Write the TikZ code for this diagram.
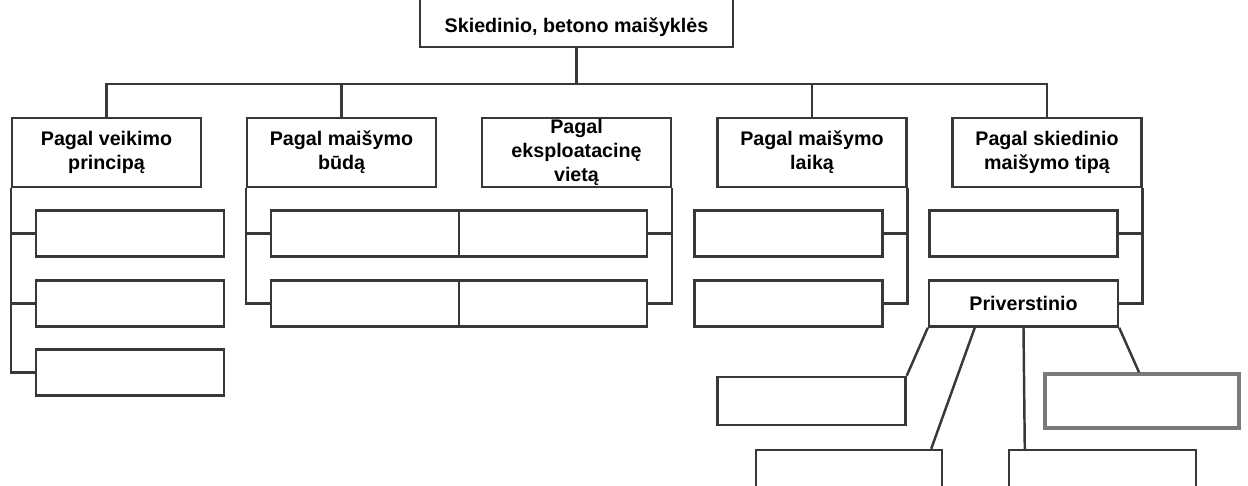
\documentclass[tikz,border=0pt]{standalone}
\usepackage{fontspec}
\setmainfont{Liberation Sans}
\usepackage{tikz}
\usetikzlibrary{positioning}
\definecolor{linegray}{HTML}{383838}
\definecolor{framegray}{HTML}{7A7A7A}
\tikzset{
  tree/.style={draw=linegray, line width=1.4pt},
  rootbox/.style={draw=linegray, line width=1.4pt, fill=white, minimum width=6.26cm, text height=0.95cm, text depth=0.28cm, inner sep=0pt, align=center, font=\bfseries\fontsize{11.2}{13.5}\selectfont},
  catbox/.style={draw=linegray, line width=1.4pt, fill=white, minimum width=3.78cm, minimum height=1.38cm, inner sep=0pt, align=center, font=\bfseries\fontsize{11.2}{13.5}\selectfont},
  leafbox/.style={draw=linegray, line width=1.4pt, fill=white, minimum width=3.76cm, minimum height=0.92cm, inner sep=0pt},
  boldframe/.style={draw=framegray, line width=2pt, fill=white, minimum width=3.88cm, minimum height=1.08cm, inner sep=0pt}
}

\begin{document}
\begin{tikzpicture}[x=0.02cm, y=-0.02cm]
      \useasboundingbox (0,0) rectangle (1248,486);
      \clip (0,0) rectangle (1248,486);
      % root and bus
      \node[rootbox, anchor=south] (root) at (576.5,48) {Skiedinio, betono maišyklės};
      \coordinate (bus) at (576.5,84);
      % categories
      \node[catbox] (c1) at (106.5,152.5) {Pagal veikimo\\principą};
      \node[catbox] (c2) at (341.5,152.5) {Pagal maišymo\\būdą};
      \node[catbox] (c3) at (576.5,152.5) {Pagal\\eksploatacinę\\vietą};
      \node[catbox] (c4) at (812,152.5) {Pagal maišymo\\laiką};
      \node[catbox] (c5) at (1047,152.5) {Pagal skiedinio\\maišymo tipą};
      \draw[tree] (root.south) -- (bus);
      \draw[tree] (c1.north) |- (bus) -| (c5.north);
      \draw[tree] (c2.north) -- (c2.north |- bus);
      \draw[tree] (c4.north) -- (c4.north |- bus);
      % leaves
      \node[leafbox] (v1) at (130,233.5) {};
      \node[leafbox] (v2) at (130,303.5) {};
      \node[leafbox] (v3) at (130,372.5) {};
      \node[leafbox] (b1) at (365,233.5) {};
      \node[leafbox] (b2) at (365,303.5) {};
      \node[leafbox] (e1) at (553,233.5) {};
      \node[leafbox] (e2) at (553,303.5) {};
      \node[leafbox] (l1) at (788.5,233.5) {};
      \node[leafbox] (l2) at (788.5,303.5) {};
      \node[leafbox] (t1) at (1023.5,233.5) {};
      \node[leafbox, font=\bfseries\fontsize{11.2}{13.5}\selectfont, minimum width=3.78cm] (pv) at (1023.5,303.5) {Priverstinio};
      % spines
      \draw[tree] (c1.south west) |- (v3.west);
      \draw[tree] (c1.south west |- v1.west) -- (v1.west);
      \draw[tree] (c1.south west |- v2.west) -- (v2.west);
      \draw[tree] (c2.south west) |- (b2.west);
      \draw[tree] (c2.south west |- b1.west) -- (b1.west);
      \draw[tree] (c3.south east) |- (e2.east);
      \draw[tree] (c3.south east |- e1.east) -- (e1.east);
      \draw[tree] (c4.south east) |- (l2.east);
      \draw[tree] (c4.south east |- l1.east) -- (l1.east);
      \draw[tree] (c5.south east) |- (pv.east);
      \draw[tree] (c5.south east |- t1.east) -- (t1.east);
      % forced mixing types
      \node[leafbox, minimum height=0.96cm] (pa) at (811.5,401) {};
      \node[leafbox, minimum width=3.72cm, minimum height=1.2cm] (pb) at (849,480) {};
      \node[leafbox, minimum width=3.74cm, minimum height=1.2cm] (pc) at (1102.5,480) {};
      \node[boldframe] (pd) at (1142,401) {};
      \draw[tree] (pv.south west) -- (pa.north east);
      \draw[tree] ([xshift=0.94cm]pv.south west) -- ([xshift=-0.24cm]pb.north east);
      \draw[tree] (pv.south) -- ([xshift=0.34cm]pc.north west);
      \draw[tree] (pv.south east) -- ([xshift=-0.06cm]pd.north);
    \end{tikzpicture}
\end{document}
